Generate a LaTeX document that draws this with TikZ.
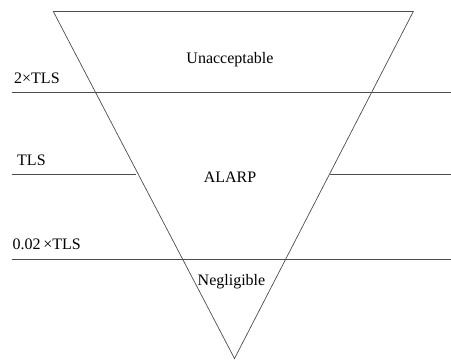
\documentclass[tikz,border=0pt]{standalone}
\usepackage{fontspec}
\setmainfont{Liberation Serif}
\begin{document}
\begin{tikzpicture}[x=1bp,y=-1bp,
  edge/.style={draw=black!70,line width=0.7bp},
  lbl/.style={inner sep=0pt,font=\fontsize{16bp}{19bp}\selectfont}]
\useasboundingbox (0,0) rectangle (451,360);
% triangle vertices
\coordinate (tl) at (53.3,11.5);
\coordinate (tr) at (413.3,11.5);
\coordinate (bt) at (234.5,358.5);
\draw[edge] (tl) -- (tr) -- (bt) -- cycle;
% level lines
\coordinate (l1a) at (12,92.7);
\coordinate (l1b) at (451,92.7);
\coordinate (l2a) at (12,174.7);
\coordinate (l2b) at (136,174.7);
\coordinate (l2c) at (330,174.7);
\coordinate (l2d) at (451,174.7);
\coordinate (l3a) at (12,259.3);
\coordinate (l3b) at (451,259.3);
\draw[edge] (l1a) -- (l1b);
\draw[edge] (l2a) -- (l2b);
\draw[edge] (l2c) -- (l2d);
\draw[edge] (l3a) -- (l3b);
% labels
\node[lbl,anchor=base west] (t1) at (14,83) {2×TLS};
\node[lbl,anchor=base west] (t2) at (17,165.7) {TLS};
\node[lbl,anchor=base west] (t3) at (12.5,249) {0.02\,×TLS};
\node[lbl,anchor=base] (z1) at (230,63) {Unacceptable};
\node[lbl,anchor=base] (z2) at (230,182) {ALARP};
\node[lbl,anchor=base] (z3) at (231.5,285.7) {Negligible};
\end{tikzpicture}
\end{document}
